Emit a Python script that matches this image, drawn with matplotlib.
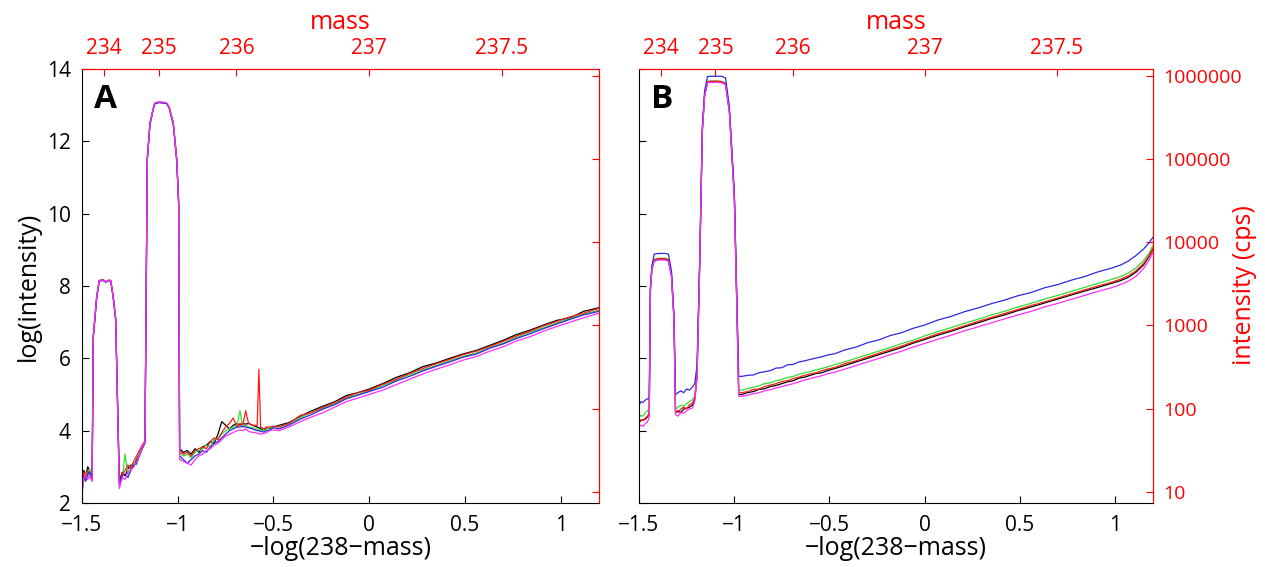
import numpy as np
import matplotlib.pyplot as plt

plt.rcParams['font.family'] = ['Open Sans', 'DejaVu Sans']

# x = -ln(238 - mass), y = ln(intensity)
xa = [-1.50, -1.49, -1.48, -1.47, -1.46, -1.447,
      -1.441, -1.423, -1.41, -1.39, -1.375, -1.36, -1.35, -1.337, -1.324,
      -1.305, -1.29, -1.275, -1.26, -1.245, -1.23, -1.215, -1.20, -1.185,
      -1.171, -1.159, -1.145, -1.128, -1.12, -1.10, -1.08, -1.06, -1.045, -1.023, -1.005, -0.995,
      -0.99, -0.97, -0.95, -0.93, -0.91, -0.89, -0.87, -0.85, -0.83, -0.81, -0.79, -0.77, -0.75,
      -0.73, -0.71, -0.69, -0.675, -0.66, -0.645, -0.63, -0.61, -0.595, -0.585, -0.576, -0.567,
      -0.55, -0.535, -0.52, -0.50,
      -0.47, -0.42, -0.36, -0.30, -0.24, -0.18, -0.12, -0.06, 0.0, 0.07, 0.14, 0.21, 0.28,
      0.35, 0.42, 0.49, 0.56, 0.63, 0.70, 0.77, 0.84, 0.91, 0.98, 1.05, 1.12, 1.20]

a_black = [2.5, 2.9, 2.75, 3.0, 2.9, 2.7,
           6.6, 7.7, 8.15, 8.17, 8.1, 8.16, 8.15, 7.7, 7.1,
           2.6, 2.85, 2.75, 2.95, 3.05, 3.0, 3.2, 3.35, 3.55,
           3.7, 11.5, 12.5, 12.9, 13.05, 13.08, 13.07, 13.06, 12.95, 12.5, 11.5, 10.3,
           3.5, 3.4, 3.45, 3.35, 3.5, 3.4, 3.55, 3.6, 3.7, 3.65, 3.9, 4.25, 4.15, 4.05, 4.15,
           4.2, 4.15, 4.2, 4.18, 4.2, 4.15, 4.12, 4.1, 4.08, 4.06, 4.0, 4.08, 4.05, 4.1,
           4.15, 4.22, 4.4, 4.55, 4.68, 4.8, 4.97, 5.05, 5.15, 5.3, 5.47, 5.6, 5.77, 5.87,
           6.0, 6.12, 6.22, 6.36, 6.5, 6.66, 6.78, 6.92, 7.05, 7.12, 7.3, 7.4]
a_blue = [2.3, 2.75, 2.6, 2.8, 2.85, 2.65,
          6.55, 7.65, 8.13, 8.15, 8.12, 8.14, 8.13, 7.68, 7.05,
          2.5, 2.75, 2.8, 2.7, 2.9, 3.05, 3.1, 3.3, 3.5,
          3.65, 11.45, 12.45, 12.88, 13.03, 13.07, 13.06, 13.05, 12.93, 12.45, 11.45, 10.2,
          3.3, 3.2, 3.1, 3.2, 3.3, 3.35, 3.45, 3.4, 3.55, 3.65, 3.7, 3.8, 3.9, 4.0, 4.05,
          4.1, 4.1, 4.12, 4.1, 4.08, 4.05, 4.02, 4.0, 4.0, 3.98, 3.96, 4.0, 4.02, 4.08,
          4.05, 4.15, 4.32, 4.45, 4.6, 4.72, 4.88, 4.98, 5.08, 5.2, 5.37, 5.5, 5.65, 5.78,
          5.9, 6.03, 6.12, 6.28, 6.4, 6.55, 6.68, 6.82, 6.95, 7.08, 7.2, 7.3]
a_green = [2.45, 2.6, 2.85, 2.7, 2.95, 2.6,
           6.6, 7.7, 8.14, 8.16, 8.11, 8.15, 8.14, 7.7, 7.08,
           2.55, 2.65, 3.35, 2.8, 3.0, 3.1, 3.05, 3.4, 3.6,
           3.7, 11.5, 12.48, 12.9, 13.04, 13.08, 13.07, 13.05, 12.94, 12.48, 11.48, 10.25,
           3.4, 3.3, 3.35, 3.25, 3.4, 3.45, 3.5, 3.6, 3.55, 3.75, 3.8, 3.9, 4.0, 4.05, 4.1,
           4.15, 4.55, 4.1, 4.15, 4.1, 4.08, 4.05, 4.05, 4.03, 4.02, 4.0, 4.05, 4.07, 4.1,
           4.12, 4.18, 4.35, 4.52, 4.62, 4.75, 4.9, 5.0, 5.1, 5.25, 5.4, 5.55, 5.68, 5.8,
           5.93, 6.05, 6.15, 6.3, 6.42, 6.58, 6.72, 6.85, 6.98, 7.1, 7.22, 7.33]
a_red = [2.55, 2.85, 2.7, 2.9, 2.8, 2.75,
         6.62, 7.72, 8.15, 8.17, 8.12, 8.16, 8.15, 7.72, 7.1,
         2.7, 2.8, 2.9, 3.05, 2.95, 3.15, 3.3, 3.45, 3.6,
         3.72, 11.52, 12.5, 12.9, 13.05, 13.08, 13.08, 13.06, 12.95, 12.5, 11.5, 10.3,
         3.45, 3.35, 3.4, 3.3, 3.45, 3.5, 3.55, 3.5, 3.7, 3.8, 3.75, 3.95, 4.1, 4.2, 4.35,
         4.1, 4.2, 4.15, 4.55, 4.2, 4.15, 4.15, 4.15, 5.7, 4.1, 4.05, 4.1, 4.1, 4.12,
         4.1, 4.2, 4.42, 4.5, 4.65, 4.78, 4.93, 5.05, 5.12, 5.28, 5.42, 5.58, 5.72, 5.85,
         5.97, 6.1, 6.2, 6.33, 6.47, 6.62, 6.75, 6.9, 7.02, 7.15, 7.25, 7.38]
a_magenta = [2.2, 2.7, 2.8, 2.65, 2.75, 2.6,
             6.6, 7.7, 8.15, 8.16, 8.12, 8.15, 8.15, 7.7, 7.1,
             2.4, 2.7, 2.65, 2.85, 2.9, 3.0, 3.15, 3.3, 3.55,
             3.7, 11.5, 12.5, 12.9, 13.06, 13.09, 13.08, 13.07, 12.95, 12.5, 11.5, 10.3,
             3.2, 3.15, 3.1, 3.05, 3.2, 3.3, 3.35, 3.45, 3.5, 3.6, 3.65, 3.75, 3.85, 3.9, 3.95,
             4.0, 4.02, 4.0, 4.05, 3.98, 3.95, 3.95, 3.93, 3.92, 3.9, 3.92, 3.95, 4.0, 4.02,
             4.0, 4.1, 4.25, 4.38, 4.5, 4.65, 4.8, 4.9, 5.0, 5.12, 5.27, 5.42, 5.57, 5.7,
             5.82, 5.95, 6.05, 6.2, 6.32, 6.48, 6.6, 6.75, 6.88, 7.0, 7.12, 7.25]

xb = [-1.50, -1.49, -1.478, -1.466, -1.455, -1.446,
      -1.440, -1.432, -1.42, -1.40, -1.38, -1.36, -1.345, -1.329, -1.316,
      -1.308, -1.295, -1.28, -1.265, -1.25, -1.235, -1.22, -1.207,
      -1.195, -1.181, -1.167, -1.155, -1.14, -1.12, -1.09, -1.065, -1.045, -1.025, -0.999, -0.985, -0.976,
      -0.96, -0.93, -0.90, -0.87, -0.84, -0.81, -0.78, -0.75, -0.72, -0.69, -0.66, -0.63,
      -0.60, -0.57, -0.54, -0.51, -0.47, -0.42, -0.36, -0.30, -0.24, -0.18, -0.12, -0.06,
      0.0, 0.07, 0.14, 0.21, 0.28, 0.35, 0.42, 0.49, 0.56, 0.63, 0.70, 0.77, 0.84, 0.91,
      0.98, 1.03, 1.07, 1.11, 1.15, 1.18, 1.20]

b_black = [4.22, 4.28, 4.3, 4.32, 4.38, 4.45,
           7.88, 8.48, 8.7, 8.73, 8.74, 8.73, 8.7, 8.28, 7.08,
           4.5, 4.55, 4.5, 4.6, 4.62, 4.65, 4.7, 4.85,
           5.5, 8.6, 12.3, 13.28, 13.64, 13.65, 13.65, 13.64, 13.58, 12.82, 10.45, 7.25, 5.0,
           5.0, 5.05, 5.08, 5.14, 5.16, 5.22, 5.25, 5.3, 5.35, 5.38, 5.45, 5.48, 5.53, 5.58,
           5.6, 5.66, 5.72, 5.8, 5.9, 6.0, 6.1, 6.2, 6.3, 6.42, 6.52, 6.64, 6.75, 6.87, 6.98,
           7.1, 7.2, 7.32, 7.42, 7.53, 7.64, 7.75, 7.86, 7.96, 8.07, 8.15, 8.24, 8.38, 8.58,
           8.82, 9.02]
b_blue = [4.7, 4.8, 4.78, 4.85, 4.88, 4.9,
          7.95, 8.55, 8.88, 8.9, 8.9, 8.9, 8.88, 8.4, 7.2,
          5.0, 5.05, 5.1, 5.05, 5.15, 5.12, 5.2, 5.3,
          5.8, 8.7, 12.4, 13.4, 13.79, 13.8, 13.8, 13.8, 13.75, 12.95, 10.6, 7.5, 5.5,
          5.5, 5.53, 5.54, 5.6, 5.63, 5.66, 5.73, 5.74, 5.82, 5.83, 5.9, 5.93, 5.97, 6.01,
          6.04, 6.09, 6.13, 6.23, 6.31, 6.43, 6.51, 6.63, 6.71, 6.83, 6.92, 7.06, 7.16, 7.29,
          7.39, 7.51, 7.61, 7.73, 7.82, 7.95, 8.04, 8.16, 8.26, 8.39, 8.49, 8.58, 8.69, 8.84,
          9.02, 9.2, 9.35]
b_green = [4.35, 4.42, 4.4, 4.5, 4.55, 4.6,
           7.9, 8.5, 8.74, 8.77, 8.76, 8.77, 8.74, 8.3, 7.1,
           4.6, 4.65, 4.7, 4.68, 4.75, 4.8, 4.85, 4.95,
           5.6, 8.65, 12.35, 13.3, 13.66, 13.67, 13.67, 13.66, 13.6, 12.85, 10.5, 7.3, 5.12,
           5.12, 5.16, 5.2, 5.24, 5.3, 5.32, 5.38, 5.42, 5.47, 5.5, 5.56, 5.6, 5.63, 5.68,
           5.72, 5.76, 5.83, 5.9, 6.0, 6.1, 6.2, 6.3, 6.41, 6.5, 6.62, 6.74, 6.85, 6.97,
           7.08, 7.2, 7.3, 7.42, 7.52, 7.64, 7.74, 7.85, 7.96, 8.07, 8.18, 8.26, 8.36, 8.5,
           8.7, 8.92, 9.12]
b_red = [4.25, 4.3, 4.28, 4.35, 4.4, 4.5,
         7.9, 8.5, 8.72, 8.75, 8.76, 8.75, 8.72, 8.3, 7.1,
         4.55, 4.5, 4.6, 4.65, 4.6, 4.72, 4.75, 4.9,
         5.55, 8.62, 12.33, 13.28, 13.65, 13.66, 13.66, 13.65, 13.6, 12.85, 10.5, 7.3, 5.05,
         5.05, 5.08, 5.14, 5.15, 5.22, 5.26, 5.3, 5.36, 5.38, 5.44, 5.48, 5.53, 5.57, 5.6,
         5.66, 5.7, 5.75, 5.85, 5.93, 6.04, 6.14, 6.24, 6.34, 6.45, 6.55, 6.68, 6.78, 6.9,
         7.02, 7.13, 7.24, 7.35, 7.46, 7.56, 7.67, 7.78, 7.89, 8.0, 8.1, 8.19, 8.28, 8.42,
         8.62, 8.85, 9.05]
b_magenta = [4.1, 4.15, 4.12, 4.2, 4.25, 4.35,
             7.85, 8.45, 8.68, 8.72, 8.72, 8.72, 8.68, 8.25, 7.05,
             4.45, 4.4, 4.5, 4.48, 4.55, 4.6, 4.62, 4.8,
             5.45, 8.55, 12.28, 13.25, 13.62, 13.63, 13.63, 13.62, 13.56, 12.8, 10.4, 7.2, 4.95,
             4.95, 4.98, 5.02, 5.05, 5.1, 5.13, 5.18, 5.22, 5.26, 5.3, 5.35, 5.4, 5.44, 5.48,
             5.52, 5.57, 5.62, 5.7, 5.8, 5.9, 6.0, 6.1, 6.2, 6.31, 6.41, 6.53, 6.64, 6.76,
             6.87, 6.98, 7.09, 7.2, 7.3, 7.42, 7.52, 7.63, 7.74, 7.85, 7.95, 8.04, 8.13, 8.27,
             8.48, 8.72, 8.95]

colors = ['black', '#33dd33', '#ff1a1a', '#2a2ae0', '#ff2eff']
x_ticks = [-1.5, -1, -0.5, 0, 0.5, 1]
x_ticklabels = ['\u22121.5', '\u22121', '\u22120.5', '0', '0.5', '1']
y_ticks = [2, 4, 6, 8, 10, 12, 14]
mass_ticks = [234, 235, 236, 237, 237.5]
mass_labels = ['234', '235', '236', '237', '237.5']
cps_ticks = [10, 100, 1000, 10000, 100000, 1000000]
cps_labels = ['10', '100', '1000', '10000', '100000', '1000000']


def to_mass(x):
    return 238 - np.exp(-np.asarray(x, dtype=float))


def from_mass(m):
    return -np.log(np.clip(238 - np.asarray(m, dtype=float), 1e-9, None))


def setup(ax, letter, left_labels, right_labels):
    ax.set_xlim(-1.5, 1.2)
    ax.set_ylim(2, 14)
    ax.set_xticks(x_ticks)
    ax.set_xticklabels(x_ticklabels)
    ax.set_yticks(y_ticks)
    if not left_labels:
        ax.set_yticklabels([])
    ax.tick_params(direction='in', length=5, labelsize=15, top=False, right=False)
    ax.tick_params(axis='x', pad=9)
    ax.tick_params(axis='y', pad=8)
    ax.spines['top'].set_color('red')
    ax.spines['right'].set_color('red')
    ax.set_xlabel('\u2212log(238\u2212mass)', fontsize=18, labelpad=0)
    ax.text(0.045, 0.93, letter, transform=ax.transAxes, fontsize=24,
            fontweight='bold', ha='center', va='center')

    top = ax.secondary_xaxis('top', functions=(to_mass, from_mass))
    top.set_xticks(mass_ticks)
    top.set_xticklabels(mass_labels)
    top.tick_params(direction='in', length=5, labelsize=15, colors='red', pad=7)
    top.spines['top'].set_color('red')
    top.set_xlabel('mass', fontsize=18, color='red', labelpad=7)

    right = ax.secondary_yaxis('right', functions=(np.exp, np.log))
    right.set_yticks(cps_ticks)
    right.minorticks_off()
    if right_labels:
        right.set_yticklabels(cps_labels)
    else:
        right.set_yticklabels([])
    right.tick_params(direction='in', length=5, labelsize=14, colors='red', pad=7)
    right.spines['right'].set_color('red')


fig = plt.figure(figsize=(12.65, 5.67), dpi=100)
axA = fig.add_axes([0.0648, 0.1129, 0.4087, 0.7654])
axB = fig.add_axes([0.5051, 0.1129, 0.4064, 0.7654])

for ys, c in zip([a_black, a_green, a_red, a_blue, a_magenta], colors):
    axA.plot(xa, ys, color=c, linewidth=0.9)
for ys, c in zip([b_black, b_green, b_red, b_blue, b_magenta], colors):
    axB.plot(xb, ys, color=c, linewidth=0.9)

setup(axA, 'A', True, False)
setup(axB, 'B', False, True)
axA.set_ylabel('log(intensity)', fontsize=18, labelpad=4)
fig.text(0.9835, 0.497, 'intensity (cps)', rotation=90, fontsize=18, color='red',
         ha='center', va='center')

fig.savefig('out.png', dpi=100)
